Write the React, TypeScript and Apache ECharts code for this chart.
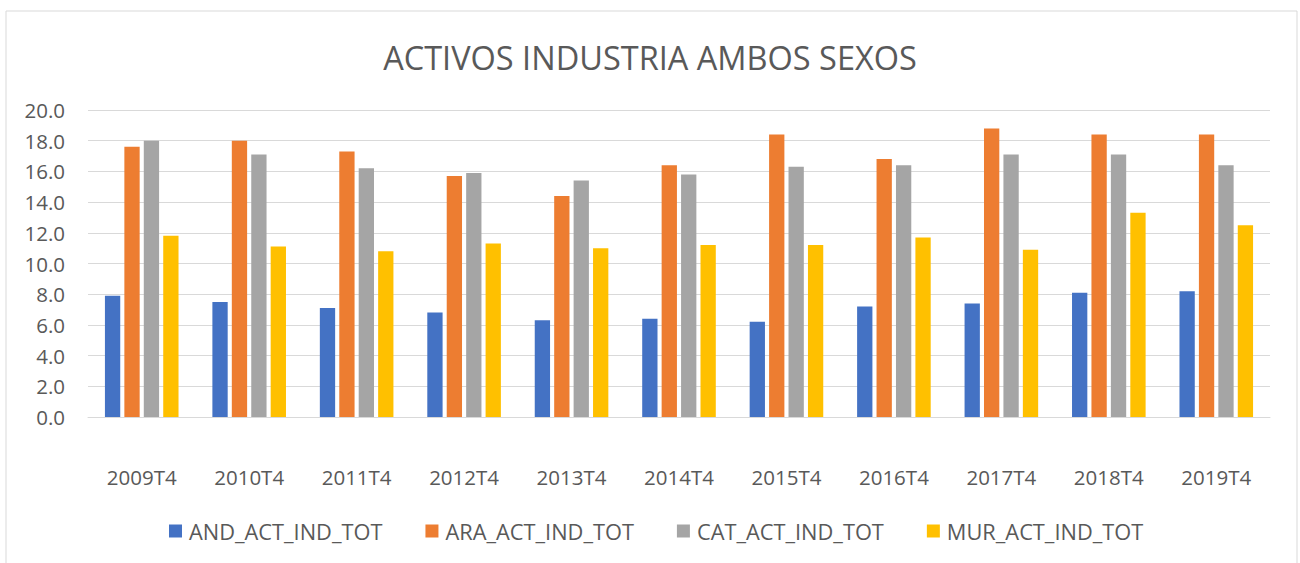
import React, { useEffect, useRef } from "react";
import * as echarts from "echarts";

const categories = ["2009T4", "2010T4", "2011T4", "2012T4", "2013T4", "2014T4", "2015T4", "2016T4", "2017T4", "2018T4", "2019T4"];
const andValues = [7.9, 7.5, 7.1, 6.8, 6.3, 6.4, 6.2, 7.2, 7.4, 8.1, 8.2];
const araValues = [17.6, 18.0, 17.3, 15.7, 14.4, 16.4, 18.4, 16.8, 18.8, 18.4, 18.4];
const catValues = [18.0, 17.1, 16.2, 15.9, 15.4, 15.8, 16.3, 16.4, 17.1, 17.1, 16.4];
const murValues = [11.8, 11.1, 10.8, 11.3, 11.0, 11.2, 11.2, 11.7, 10.9, 13.3, 12.5];
const seriesNames = ["AND_ACT_IND_TOT", "ARA_ACT_IND_TOT", "CAT_ACT_IND_TOT", "MUR_ACT_IND_TOT"];
const colors = ["#4472C4", "#ED7D31", "#A5A5A5", "#FFC000"];

const FONT = "'Open Sans', 'Noto Sans', sans-serif";
const TEXT = "#595959";

export default function App() {
  const ref = useRef<HTMLDivElement>(null);
  useEffect(() => {
    if (!ref.current) return;
    const chart = echarts.init(ref.current, null, { renderer: "svg" });
    const data = [andValues, araValues, catValues, murValues];
    chart.setOption({
      animation: false,
      backgroundColor: "#ffffff",
      textStyle: { fontFamily: FONT },
      title: {
        text: "ACTIVOS INDUSTRIA AMBOS SEXOS",
        left: "center",
        top: 36,
        textStyle: { fontFamily: FONT, fontSize: 32.5, fontWeight: "normal", color: TEXT },
      },
      graphic: [
        {
          type: "rect",
          shape: { x: 6, y: 11, width: 1291, height: 560 },
          style: { fill: "none", stroke: "#d9d9d9", lineWidth: 1 },
          silent: true,
          z: -1,
        },
      ],
      legend: {
        left: 169,
        top: 520,
        padding: 0,
        itemWidth: 13,
        itemHeight: 13,
        itemGap: 43,
        icon: "rect",
        textStyle: { fontFamily: FONT, fontSize: 21.8, color: TEXT, padding: [0, 0, 0, 2] },
        data: seriesNames,
      },
      grid: { left: 88, right: 30, top: 110, bottom: 146, containLabel: false },
      xAxis: {
        type: "category",
        data: categories,
        axisLine: { show: true, lineStyle: { color: "#d9d9d9", width: 1 } },
        axisTick: { show: false },
        axisLabel: { fontFamily: FONT, fontSize: 20.5, color: TEXT, margin: 49 },
      },
      yAxis: {
        type: "value",
        min: 0,
        max: 20,
        interval: 2,
        axisLine: { show: false },
        axisTick: { show: false },
        splitLine: { lineStyle: { color: "#d9d9d9", width: 1 } },
        axisLabel: {
          fontFamily: FONT,
          fontSize: 20.5,
          color: TEXT,
          margin: 23,
          formatter: (v: number) => v.toFixed(1),
        },
      },
      series: seriesNames.map((name, i) => ({
        name,
        type: "bar",
        data: data[i],
        barWidth: 15.3,
        barGap: "27%",
        itemStyle: { color: colors[i] },
      })),
    });
    return () => chart.dispose();
  }, []);
  return (
    <div
      ref={ref}
      style={{ position: "fixed", left: 0, top: 0, width: 1300, height: 563 }}
    />
  );
}
